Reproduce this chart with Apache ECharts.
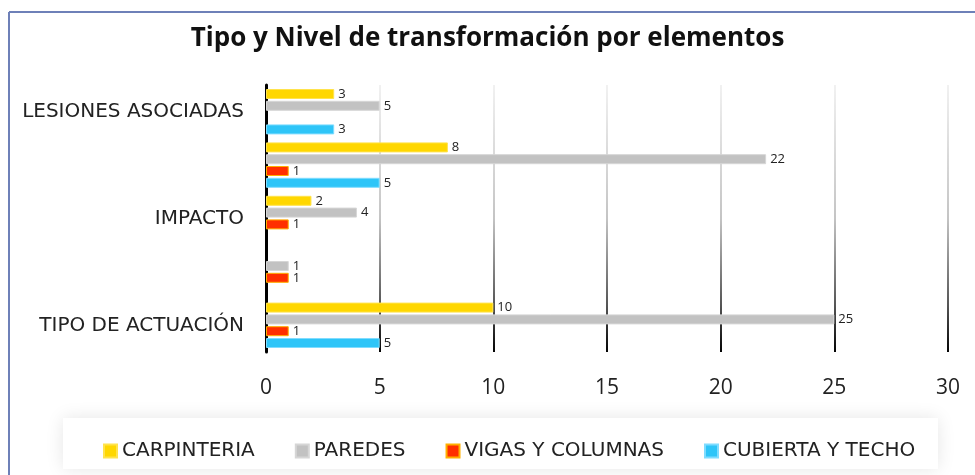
<!DOCTYPE html>
<html>
<head>
<meta charset="utf-8">
<title>Tipo y Nivel de transformación por elementos</title>
<script src="https://cdn.jsdelivr.net/npm/echarts@6/dist/echarts.min.js"></script>
<style>
  html, body { margin: 0; padding: 0; background: #fff; }
  #main { width: 975px; height: 475px; }
</style>
</head>
<body>
<div id="main"></div>
<script type="text/javascript">
// categorias de arriba a abajo (las etiquetas intermedias no se ven en el original)
var categorias = ['LESIONES ASOCIADAS', ' ', 'IMPACTO', '  ', 'TIPO DE ACTUACIÓN'];
var xTicks = [0, 5, 10, 15, 20, 25, 30];

// valores por serie, null = sin barra
var carpinteria = [3, 8, 2, null, 10];
var paredes = [5, 22, 4, 1, 25];
var vigasColumnas = [null, 1, 1, 1, 1];
var cubiertaTecho = [3, 5, null, null, 5];

var nombres = ['CARPINTERIA', 'PAREDES', 'VIGAS Y COLUMNAS', 'CUBIERTA Y TECHO'];
var colores = ['#ffd700', '#c2c2c2', '#ff2f00', '#2ec5f8'];
var bordes = ['#ffe34d', '#d6d6d6', '#ffb000', '#7fdcff'];
var valores = [carpinteria, paredes, vigasColumnas, cubiertaTecho];

var myChart = echarts.init(document.getElementById('main'));

var series = nombres.map(function (n, i) {
  return {
    name: n,
    type: 'bar',
    data: valores[i],
    barWidth: 10,
    barGap: '18%',
    itemStyle: { color: colores[i], borderColor: bordes[i], borderWidth: 1 },
    label: {
      show: true,
      position: 'right',
      distance: 4,
      fontSize: 13,
      color: '#222',
      fontFamily: 'Open Sans'
    }
  };
});

var option = {
  backgroundColor: '#fff',
  animation: false,
  title: {
    text: 'Tipo y Nivel de transformación por elementos',
    left: 'center',
    top: 21,
    textStyle: { fontSize: 26, fontWeight: 'bold', color: '#111', fontFamily: 'Open Sans' }
  },
  graphic: [
    // marco azul superior e izquierdo
    { type: 'line', shape: { x1: 9, y1: 12, x2: 975, y2: 12 }, style: { stroke: '#6e80b8', lineWidth: 2 }, z: 0 },
    { type: 'line', shape: { x1: 9, y1: 12, x2: 9, y2: 475 }, style: { stroke: '#6e80b8', lineWidth: 2 }, z: 0 },
    // caja de la leyenda
    {
      type: 'rect', shape: { x: 63, y: 418, width: 875, height: 51 },
      style: { fill: '#fff', shadowBlur: 18, shadowColor: 'rgba(0,0,0,0.10)' }, z: -1
    }
  ],
  legend: {
    data: nombres,
    left: 98,
    top: 436,
    itemWidth: 13,
    itemHeight: 13,
    itemGap: 40,
    icon: 'rect',
    textStyle: { fontSize: 20, color: '#222', fontFamily: 'DejaVu Sans' }
  },
  grid: { left: 266, right: 27, top: 85, bottom: 123 },
  xAxis: {
    type: 'value',
    min: xTicks[0],
    max: xTicks[xTicks.length - 1],
    interval: 5,
    axisLine: { show: false },
    axisTick: { show: false },
    axisLabel: { fontSize: 21, color: '#222', margin: 26, fontFamily: 'Open Sans' },
    splitLine: {
      lineStyle: {
        width: 2,
        color: {
          type: 'linear', x: 0, y: 0, x2: 0, y2: 1,
          colorStops: [
            { offset: 0, color: '#f2f2f2' },
            { offset: 0.5, color: '#c4c4c4' },
            { offset: 0.82, color: '#555' },
            { offset: 1, color: '#000' }
          ]
        }
      }
    }
  },
  yAxis: {
    type: 'category',
    inverse: true,
    data: categorias,
    axisLine: { show: true, lineStyle: { color: '#000', width: 3 } },
    axisTick: { show: false },
    axisLabel: { interval: 0, fontSize: 20, color: '#222', margin: 22, fontFamily: 'DejaVu Sans' }
  },
  series: series
};

myChart.setOption(option);
</script>
</body>
</html>
